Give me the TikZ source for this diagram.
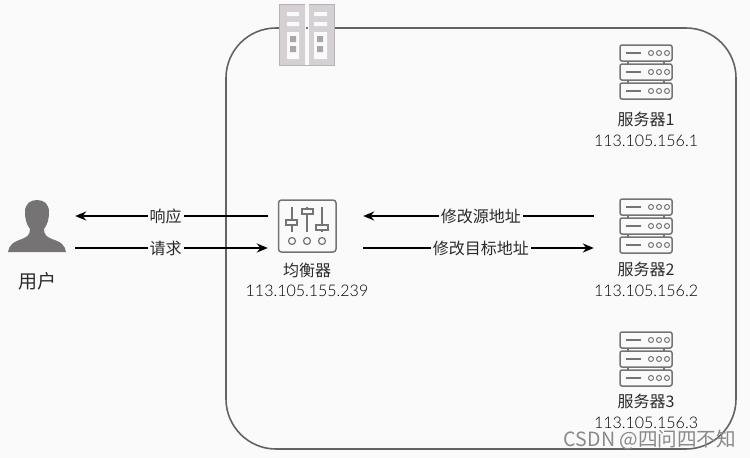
\documentclass[tikz,border=0pt]{standalone}
\usepackage{fontspec}
\usetikzlibrary{arrows.meta}
\setmainfont{Lato}[UprightFont={* Light}]
\newfontfamily\cjk{Noto Sans CJK SC}
\definecolor{bgc}{HTML}{FBFAFB}
\definecolor{icon}{HTML}{767375}
\definecolor{txt}{HTML}{2A2A2A}
\definecolor{tower}{HTML}{D4D0D3}
\definecolor{towerd}{HTML}{A9A5A8}
\tikzset{
  flow/.style={draw=black,line width=2pt,-{Stealth[length=11pt,width=9pt]}},
  lab/.style={fill=bgc,text=txt,inner sep=2pt,font=\cjk\fontsize{16}{16}\selectfont},
  caption/.style={text=txt,inner sep=0pt,font=\cjk\fontsize{16}{16}\selectfont},
  ip/.style={text=black,inner sep=0pt,font=\fontsize{16}{16}\selectfont},
  hold/.style={inner sep=0pt,minimum width=#1},
  stroke/.style={draw=icon,line width=1.5pt,rounded corners=2pt},
  pics/srv/.style={code={
    \foreach \o in {0,19,38}{
      \draw[stroke] (-26,\o-27) rectangle (26,\o-11);
      \draw[icon,line width=1.4pt] (-20,\o-19) -- (-5,\o-19);
      \foreach \c in {5,13,21}{\draw[icon,line width=1pt] (\c,\o-19) circle (2.5);}
    }
    \draw[icon,line width=1.2pt] (-18,-11)--(-18,-8) (18,-11)--(18,-8) (-18,8)--(-18,11) (18,8)--(18,11);
  }}
}
\begin{document}
\begin{tikzpicture}[x=1pt,y=-1pt]
\useasboundingbox (0,0) rectangle (750,458);
\fill[bgc] (0,0) rectangle (750,458);
% container
\draw[draw=icon!85!black,line width=1.6pt,rounded corners=50pt] (226,28) rectangle (736,449);
% tower
\fill[tower] (279,4) rectangle (334,65);
\draw[towerd!70!tower,line width=1pt] (279,4) rectangle (334,65);
\fill[bgc] (305,4) rectangle (309,65);
\fill[bgc] (287,12) rectangle (299,16) (287,22) rectangle (299,26) (314,12) rectangle (327,16) (314,22) rectangle (327,26);
\fill[bgc] (287,32) rectangle (299,59) (314,32) rectangle (327,59);
\fill[towerd] (290,36) rectangle (296,42) (290,46) rectangle (296,52) (317,36) rectangle (323,42) (317,46) rectangle (323,52);
\fill[icon] (306,27) rectangle (308,29);
% placeholders
\node[hold=58pt,minimum height=52pt] (user) at (37,226) {};
\node[hold=58pt,minimum height=52pt] (lb) at (307,226) {};
\node[hold=52pt,minimum height=54pt] (s1) at (646,72) {};
\node[hold=52pt,minimum height=54pt] (s2) at (646,226) {};
\node[hold=52pt,minimum height=54pt] (s3) at (646,359) {};
% person
\fill[icon] (8,252) .. controls (9,245) and (13,242) .. (22,239) .. controls (27,237) and (30,235) .. (30,229)
  .. controls (26,224) and (25,218) .. (25,212) .. controls (25,204) and (30,200) .. (37,200)
  .. controls (44,200) and (49,204) .. (49,212) .. controls (49,218) and (48,224) .. (44,229)
  .. controls (44,235) and (47,237) .. (52,239) .. controls (61,242) and (65,245) .. (66,252) -- cycle;
% balancer
\draw[icon,line width=1.5pt,rounded corners=3pt] (278.5,200) rectangle (336,252);
\draw[icon,line width=1.2pt] (292,207)--(292,220) (292,225)--(292,232) (307,207)--(307,209) (307,214)--(307,232) (322,207)--(322,225) (322,230)--(322,232);
\draw[icon,line width=1.2pt] (286,220) rectangle (297,225) (302,209) rectangle (313,214) (316,225) rectangle (328,230);
\foreach \c in {292,307,322}{\draw[icon,line width=1.2pt] (\c,241) circle (3.5);}
% servers
\pic at (s1) {srv};
\pic at (s2) {srv};
\pic at (s3) {srv};
% texts
\node[text=txt,inner sep=0pt,font=\cjk\fontsize{19}{19}\selectfont] (userl) at (38,281) {用户};
\node[caption] (lbl) at (307,270) {均衡器};
\node[ip] (lbip) at (307,291) {113.105.155.239};
\node[caption] (s1l) at (646,119) {服务器1};
\node[ip] (s1ip) at (646,141) {113.105.156.1};
\node[caption] (s2l) at (646,269) {服务器2};
\node[ip] (s2ip) at (646,291) {113.105.156.2};
\node[caption] (s3l) at (646,401) {服务器3};
\node[ip] (s3ip) at (646,423) {113.105.156.3};
% connectors
\draw[flow] ([shift={(-10,-10)}]lb.west) -- node[lab,pos=0.53] {响应} ([shift={(9,-10)}]user.east);
\draw[flow] ([shift={(9,22)}]user.east) -- node[lab,pos=0.47] {请求} ([shift={(-10,22)}]lb.west);
\draw[flow] ([shift={(-26,-10)}]s2.west) -- node[lab,pos=0.49] {修改源地址} ([shift={(27,-10)}]lb.east);
\draw[flow] ([shift={(27,22)}]lb.east) -- node[lab,pos=0.51] {修改目标地址} ([shift={(-26,22)}]s2.west);
% watermark
\node[text=icon!85,inner sep=0pt,font=\fontsize{19.6}{19.6}\selectfont\cjk] (wm) at (650,440) {CSDN @四问四不知};
\end{tikzpicture}
\end{document}
